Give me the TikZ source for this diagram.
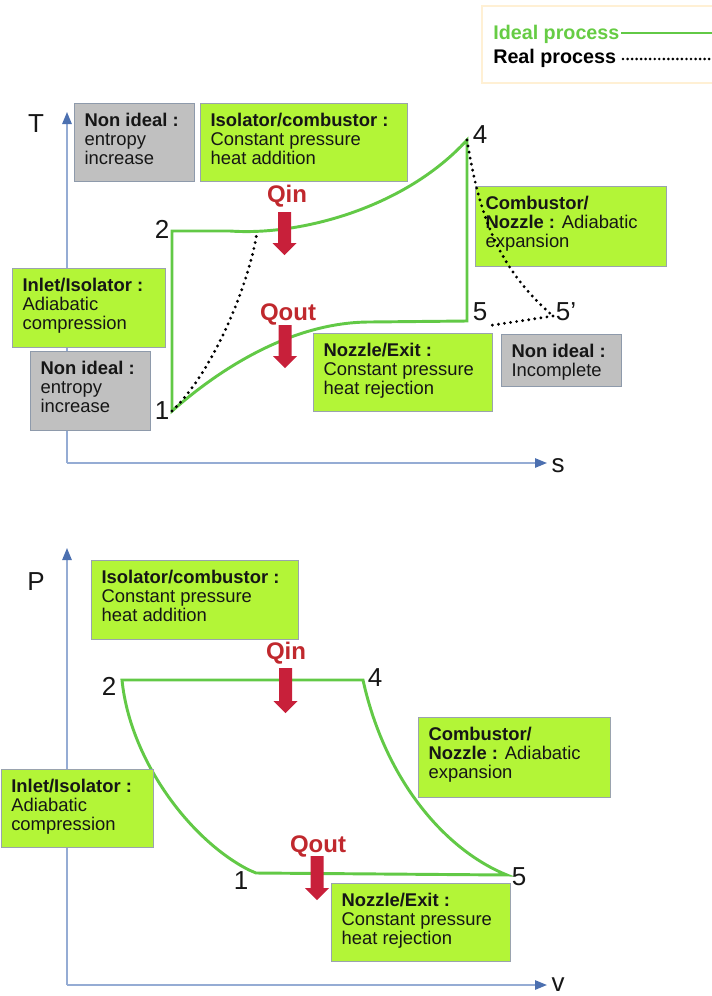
\documentclass[tikz,border=0pt]{standalone}
\usepackage{fontspec}
\setmainfont{Liberation Sans}
\usetikzlibrary{arrows.meta}

\definecolor{boxgreen}{HTML}{B3F537}
\definecolor{boxedge}{HTML}{9AA3AE}
\definecolor{nigray}{HTML}{C0C0C0}
\definecolor{niedge}{HTML}{8E9AAB}
\definecolor{cyclegreen}{HTML}{62C946}
\definecolor{legendgreen}{HTML}{66CC44}
\definecolor{legendedge}{HTML}{FFF0D4}
\definecolor{heatred}{HTML}{C8203A}
\definecolor{heattext}{HTML}{C0282D}
\definecolor{axisline}{HTML}{95ACD4}
\definecolor{axishead}{HTML}{4C70B0}
\definecolor{inktext}{HTML}{161616}

% one drawing unit = 0.75pt
\newlength\pxu
\setlength\pxu{0.75pt}
\newcommand\boxfont{\fontsize{13.8pt}{14.25pt}\selectfont\color{inktext}}
% text block of a caption box: width, height (drawing units), content
\newcommand\bx[3]{\parbox[c][\dimexpr #2\pxu-19\pxu\relax][t]{\dimexpr #1\pxu-20\pxu\relax}{\raggedright\boxfont #3}}
% red heat arrow: x, top y, tip y
\newcommand\heatarrow[3]{\fill[heatred] (#1-6.5,#2) -- (#1+6.5,#2) -- (#1+6.5,#3-12) -- (#1+12,#3-12) -- (#1,#3) -- (#1-12,#3-12) -- (#1-6.5,#3-12) -- cycle;}

\begin{document}
\begin{tikzpicture}[x=0.75pt,y=-0.75pt,
  gbox/.style={draw=boxedge, fill=boxgreen, line width=0.9pt, anchor=north west, inner xsep=7.5pt, inner ysep=7.1pt},
  nbox/.style={gbox, draw=niedge, fill=nigray},
  axis/.style={draw=axisline, line width=1.3pt, -{Triangle[length=9pt,width=7pt,fill=axishead,color=axishead]}},
  ideal/.style={draw=cyclegreen, line width=2.2pt, line join=miter},
  real/.style={draw=black, line width=2.4pt, dash pattern=on 0pt off 4.6pt, line cap=round},
  ptlabel/.style={inner sep=0pt, font=\fontsize{19.5pt}{20pt}\selectfont, text=inktext},
  heatlabel/.style={inner sep=0pt, font=\fontsize{18pt}{18pt}\selectfont\bfseries, text=heattext},
  legtext/.style={inner sep=0pt, anchor=base west, font=\fontsize{14.8pt}{15pt}\selectfont\bfseries}
]
\useasboundingbox (0,0) rectangle (711,996);

% ---------- legend ----------
\draw[legendedge, line width=1.5pt, fill=white] (482,6) rectangle (722,83);
\node[legtext, text=legendgreen] (legideal) at (493,39) {Ideal process};
\node[legtext, text=black] (legreal) at (493,63) {Real process};
\coordinate (legIa) at (621,33);
\coordinate (legIb) at (713,33);
\coordinate (legRa) at (623,59);
\coordinate (legRb) at (713,59);
\draw[draw=cyclegreen, line width=2.2pt] (legIa) -- (legIb);
\draw[real, line width=2.2pt, dash pattern=on 0pt off 3.4pt] (legRa) -- (legRb);

% ---------- T-s diagram ----------
\coordinate (To) at (67,463);
\coordinate (Ttop) at (67,112);
\coordinate (Tright) at (547,463);
\draw[axis] (To) -- (Ttop);
\draw[axis] (To) -- (Tright);
\node[ptlabel] (Tlab) at (36,124) {T};
\node[ptlabel] (slab) at (558,466) {s};

\node[nbox] (nitop) at (74,103) {\bx{120}{78}{\textbf{Non ideal :}\\entropy\\increase}};
\node[gbox] (isoctop) at (200,103) {\bx{207}{78}{\textbf{Isolator/combustor :}\\Constant pressure\\heat addition}};
\node[gbox] (ii) at (12,268) {\bx{153}{79}{\textbf{Inlet/Isolator :}\\Adiabatic\\compression}};
\node[nbox] (nileft) at (30,351) {\bx{120}{79}{\textbf{Non ideal :}\\entropy\\increase}};
\node[gbox] (netop) at (313,333) {\bx{179}{78}{\textbf{Nozzle/Exit :}\\Constant pressure\\heat rejection}};
\node[nbox] (niinc) at (501,334) {\bx{120}{52}{\textbf{Non ideal :}\\Incomplete}};

\coordinate (p1) at (172,411);
\coordinate (p2) at (172,231);
\coordinate (p4) at (467,140);
\coordinate (p5) at (467,321);
\coordinate (p2r) at (257,232);
\coordinate (p5r) at (553,316);
\coordinate (p5e) at (487,326);

% ideal cycle
\draw[ideal] (p1) -- (p2) -- (230,231) .. controls (300,236) and (405,208) .. (p4)
  -- (p5) -- (370,322) .. controls (300,322) and (230,360) .. (p1) -- cycle;

% real compression and expansion
\draw[real] (p1) .. controls (215,370) and (250,280) .. (p2r);
\draw[real] (p5r) -- (p5e);

\node[gbox] (cntop) at (475,186) {\bx{191}{80}{\textbf{Combustor/}\\\textbf{Nozzle :} Adiabatic\\expansion}};
% dots of the real expansion stay visible over the box
\draw[real] (p4) .. controls (480,220) and (500,270) .. (p5r);

\node[ptlabel] (l1) at (162,411) {1};
\node[ptlabel] (l2) at (162,229) {2};
\node[ptlabel] (l4) at (480,135) {4};
\node[ptlabel] (l5) at (480,312) {5};
\node[ptlabel] (l5r) at (566,312) {5’};

\node[heatlabel] (qintop) at (287,196) {Qin};
\heatarrow{284.5}{212}{255}
\node[heatlabel] (qouttop) at (288,314) {Qout};
\heatarrow{285}{325}{368}

% ---------- P-v diagram ----------
\coordinate (Po) at (67,985);
\coordinate (Ptop) at (67,548);
\coordinate (Pright) at (547,985);
\draw[axis] (Po) -- (Ptop);
\draw[axis] (Po) -- (Pright);
\node[ptlabel] (Plab) at (36,582) {P};
\node[ptlabel] (vlab) at (558,985) {v};

\node[gbox] (isocbot) at (91,560) {\bx{207}{79}{\textbf{Isolator/combustor :}\\Constant pressure\\heat addition}};

\coordinate (q1) at (256,873);
\coordinate (q2) at (122,680);
\coordinate (q4) at (363,680);
\coordinate (q5) at (507,875);

\draw[ideal] (q2) -- (q4) .. controls (385,780) and (445,850) .. (q5)
  -- (q1) -- (249,870) .. controls (190,840) and (130,760) .. (q2) -- cycle;

\node[gbox] (iibot) at (0.7,769) {\bx{152}{78}{\textbf{Inlet/Isolator :}\\Adiabatic\\compression}};
\node[gbox] (cnbot) at (418,717) {\bx{192}{80}{\textbf{Combustor/}\\\textbf{Nozzle :} Adiabatic\\expansion}};
\node[gbox] (nebot) at (331,883) {\bx{179}{78}{\textbf{Nozzle/Exit :}\\Constant pressure\\heat rejection}};

\node[ptlabel] (m1) at (241,881) {1};
\node[ptlabel] (m2) at (109,686) {2};
\node[ptlabel] (m4) at (375,678) {4};
\node[ptlabel] (m5) at (519,877) {5};

\node[heatlabel] (qinbot) at (286,653) {Qin};
\heatarrow{285.5}{668}{713}
\node[heatlabel] (qoutbot) at (318,846) {Qout};
\heatarrow{317}{856}{900}
\end{tikzpicture}
\end{document}
